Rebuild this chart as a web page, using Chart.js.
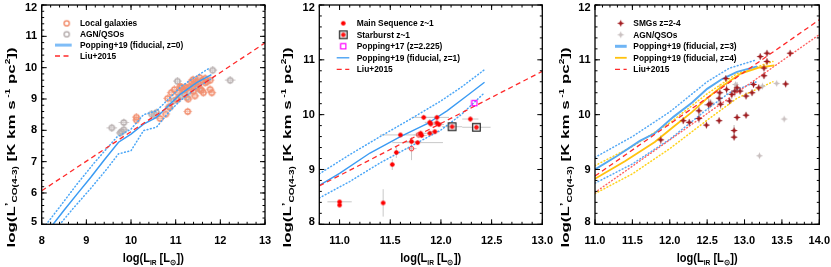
<!DOCTYPE html>
<html><head><meta charset="utf-8">
<script src="https://cdn.jsdelivr.net/npm/chart.js@4.4.1/dist/chart.umd.min.js"></script>
<style>
html,body{margin:0;padding:0;background:#fff;}
#wrap{position:relative;width:831px;height:267px;overflow:hidden;background:#fff;}
canvas{position:absolute;left:0;top:0;}
</style></head><body>
<div id="wrap">
<canvas id="c1" width="831" height="267"></canvas>
<canvas id="c2" width="831" height="267"></canvas>
<canvas id="c3" width="831" height="267"></canvas>
</div>
<script>
// ================= DATA =================
// ---- Panel 1 (local) ----
const p1XTicks = [8, 9, 10, 11, 12, 13];
const p1XTickLabels = ['8', '9', '10', '11', '12', '13'];
const p1YTicks = [5, 6, 7, 8, 9, 10, 11, 12];
const p1YTickLabels = ['5', '6', '7', '8', '9', '10', '11', '12'];
const p1LocalX = [10.12, 10.12, 10.65, 10.78, 10.85, 10.82, 10.9, 10.97, 11.02, 11.05, 11.1, 11.13, 11.17, 11.22, 11.25, 11.3, 11.27, 11.28, 11.35, 11.39, 11.4, 11.43, 11.39, 11.45, 11.48, 11.5, 11.54, 11.55, 11.58, 11.6, 11.62, 11.66, 11.66, 11.7, 11.77, 11.81, 11.77, 11.2];
const p1LocalY = [8.42, 8.33, 8.38, 8.52, 8.75, 9.02, 9.2, 9.3, 8.98, 9.2, 9.4, 9.38, 9.3, 9.38, 9.36, 9.38, 8.6, 9.0, 9.55, 9.62, 9.25, 9.1, 9.47, 9.55, 9.4, 9.5, 9.68, 9.32, 9.28, 9.6, 9.2, 9.52, 9.66, 9.55, 9.31, 9.2, 9.6, 9.28];
const p1LocalErrX = [0.1, 0.1, 0.1, 0.1, 0.1, 0.1, 0.1, 0.1, 0.1, 0.1, 0.1, 0.1, 0.1, 0.1, 0.1, 0.1, 0.1, 0.1, 0.1, 0.1, 0.1, 0.1, 0.1, 0.1, 0.1, 0.1, 0.1, 0.1, 0.1, 0.1, 0.1, 0.1, 0.1, 0.1, 0.1, 0.1, 0.1, 0.1];
const p1LocalErrY = [0.13, 0.13, 0.13, 0.13, 0.15, 0.13, 0.13, 0.15, 0.13, 0.13, 0.13, 0.13, 0.13, 0.13, 0.13, 0.13, 0.13, 0.13, 0.13, 0.13, 0.13, 0.13, 0.13, 0.13, 0.13, 0.13, 0.13, 0.13, 0.13, 0.13, 0.13, 0.13, 0.13, 0.13, 0.13, 0.13, 0.13, 0.13];
const p1AgnX = [9.57, 9.84, 9.79, 9.84, 9.76, 10.46, 10.57, 10.52, 10.87, 10.95, 11.04, 11.05, 11.1, 11.13, 11.2, 11.25, 11.32, 11.4, 11.5, 11.54, 11.83, 12.22];
const p1AgnY = [8.08, 8.25, 7.96, 8.02, 7.92, 8.52, 8.57, 8.5, 8.73, 8.94, 9.57, 9.0, 9.1, 9.36, 9.15, 9.05, 9.25, 9.4, 9.57, 9.3, 9.92, 9.6];
const p1AgnErrX = [0.12, 0.12, 0.1, 0.1, 0.1, 0.1, 0.1, 0.1, 0.1, 0.1, 0.1, 0.1, 0.1, 0.1, 0.1, 0.1, 0.1, 0.1, 0.1, 0.1, 0.1, 0.12];
const p1AgnErrY = [0.13, 0.13, 0.13, 0.13, 0.13, 0.13, 0.13, 0.13, 0.13, 0.13, 0.13, 0.13, 0.13, 0.13, 0.13, 0.13, 0.13, 0.13, 0.13, 0.13, 0.13, 0.13];
const p1PopX = [8.2, 8.5, 8.8, 9.1, 9.4, 9.72, 10.0, 10.28, 10.57, 10.87, 11.1, 11.47, 11.8];
const p1PopY = [4.9, 5.45, 5.98, 6.5, 7.05, 7.62, 7.88, 8.2, 8.41, 8.83, 9.15, 9.52, 9.78];
const p1PopHiX = [8.05, 8.4, 8.8, 9.2, 9.68, 10.0, 10.28, 10.57, 10.87, 11.13, 11.47, 11.77];
const p1PopHiY = [4.9, 5.55, 6.3, 7.0, 7.78, 8.04, 8.5, 8.62, 9.04, 9.41, 9.73, 10.0];
const p1PopLoX = [8.35, 8.7, 9.1, 9.45, 9.72, 10.0, 10.28, 10.57, 10.87, 11.1, 11.47, 11.84];
const p1PopLoY = [4.9, 5.5, 6.15, 6.75, 7.25, 7.35, 7.99, 8.1, 8.62, 8.94, 9.36, 9.68];
const p1LiuX = [8, 13];
const p1LiuY = [6.07, 10.79];

// ---- Panel 2 (z~1) ----
const p2XTicks = [11.0, 11.5, 12.0, 12.5, 13.0];
const p2XTickLabels = ['11.0', '11.5', '12.0', '12.5', '13.0'];
const p2YTicks = [8, 9, 10, 11, 12];
const p2YTickLabels = ['8', '9', '10', '11', '12'];
const p2MsX = [11.0, 11.0, 11.43, 11.52, 11.56, 11.6, 11.71, 11.77, 11.8, 11.81, 11.83, 11.89, 11.9, 11.89, 11.94, 11.96, 11.96, 11.98, 12.29];
const p2MsY = [8.41, 8.35, 8.39, 9.09, 9.31, 9.63, 9.51, 9.49, 9.66, 9.62, 9.95, 9.86, 9.83, 9.66, 9.69, 9.95, 9.85, 9.82, 9.92];
const p2MsErrX = [0.12, 0.0, 0.02, 0.02, 0.02, 0.2, 0.05, 0.25, 0.05, 0.05, 0.12, 0.05, 0.05, 0.05, 0.05, 0.12, 0.05, 0.05, 0.08];
const p2MsErrY = [0.02, 0.02, 0.25, 0.1, 0.1, 0.03, 0.05, 0.04, 0.05, 0.05, 0.05, 0.06, 0.05, 0.05, 0.05, 0.05, 0.06, 0.05, 0.05];
const p2MsOpenX = [11.71, 11.78];
const p2MsOpenY = [9.38, 9.63];
const p2MsOpenErrX = [0.05, 0.05];
const p2MsOpenErrY = [0.21, 0.05];
const p2SbX = [12.11, 12.35];
const p2SbY = [9.78, 9.77];
const p2SbErrX = [0.1, 0.14];
const p2SbErrY = [0.04, 0.04];
const p2P17X = [12.33];
const p2P17Y = [10.21];
const p2PopX = [10.8, 11.0, 11.3, 11.6, 11.86, 12.06, 12.26, 12.43];
const p2PopY = [8.71, 8.93, 9.3, 9.6, 9.83, 10.07, 10.35, 10.59];
const p2PopHiX = [10.8, 11.1, 11.4, 11.7, 12.0, 12.2, 12.43];
const p2PopHiY = [8.92, 9.27, 9.6, 9.92, 10.25, 10.5, 10.82];
const p2PopLoX = [10.8, 11.1, 11.4, 11.7, 12.0, 12.2, 12.43];
const p2PopLoY = [8.48, 8.78, 9.12, 9.42, 9.72, 10.0, 10.4];
const p2LiuX = [10.8, 13.0];
const p2LiuY = [8.7, 10.79];

// ---- Panel 3 (z=2-4) ----
const p3XTicks = [11.0, 11.5, 12.0, 12.5, 13.0, 13.5, 14.0];
const p3XTickLabels = ['11.0', '11.5', '12.0', '12.5', '13.0', '13.5', '14.0'];
const p3YTicks = [8, 9, 10, 11, 12];
const p3YTickLabels = ['8', '9', '10', '11', '12'];
const p3SmgX = [11.88, 12.18, 12.26, 12.39, 12.39, 12.49, 12.52, 12.54, 12.66, 12.67, 12.68, 12.66, 12.76, 12.75, 12.8, 12.83, 12.87, 12.9, 12.9, 12.86, 12.86, 12.94, 13.02, 13.02, 13.1, 13.12, 13.19, 13.21, 13.26, 13.26, 13.3, 13.3, 13.55, 13.61];
const p3SmgY = [9.54, 9.89, 9.86, 9.93, 10.07, 9.81, 10.18, 10.2, 9.89, 10.4, 10.19, 10.3, 10.46, 10.66, 10.25, 10.37, 10.43, 10.49, 9.95, 9.71, 9.59, 10.43, 9.99, 10.34, 10.4, 10.55, 10.49, 11.06, 10.85, 10.71, 11.12, 10.97, 10.56, 11.12];
const p3SmgErrX = [0.04, 0.04, 0.04, 0.04, 0.04, 0.04, 0.06, 0.04, 0.04, 0.04, 0.04, 0.04, 0.04, 0.04, 0.04, 0.04, 0.04, 0.04, 0.04, 0.04, 0.04, 0.04, 0.04, 0.04, 0.04, 0.04, 0.04, 0.04, 0.04, 0.04, 0.04, 0.04, 0.04, 0.04];
const p3SmgErrY = [0.08, 0.06, 0.06, 0.08, 0.08, 0.06, 0.12, 0.08, 0.06, 0.15, 0.08, 0.12, 0.1, 0.06, 0.06, 0.08, 0.1, 0.1, 0.06, 0.1, 0.06, 0.06, 0.06, 0.06, 0.06, 0.06, 0.06, 0.06, 0.06, 0.06, 0.06, 0.06, 0.06, 0.06];
const p3AgnX = [12.55, 12.88, 13.24, 13.43, 13.53, 13.2];
const p3AgnY = [10.22, 10.55, 10.52, 10.57, 9.92, 9.25];
const p3PopZ3X = [11.0, 11.3, 11.6, 11.8, 12.05, 12.3, 12.5, 12.7, 12.9, 13.17];
const p3PopZ3Y = [9.0, 9.25, 9.52, 9.66, 9.96, 10.22, 10.47, 10.65, 10.78, 10.88];
const p3PopZ3HiX = [11.0, 11.5, 12.0, 12.5, 12.8, 13.16];
const p3PopZ3HiY = [9.22, 9.6, 10.05, 10.6, 10.85, 11.0];
const p3PopZ3LoX = [11.0, 11.5, 12.0, 12.5, 12.8, 13.16];
const p3PopZ3LoY = [8.75, 9.1, 9.55, 10.1, 10.4, 10.6];
const p3PopZ4X = [11.0, 11.4, 11.8, 12.05, 12.3, 12.5, 12.7, 12.95, 13.2, 13.4];
const p3PopZ4Y = [8.83, 9.15, 9.5, 9.78, 10.05, 10.3, 10.52, 10.75, 10.86, 10.9];
const p3PopZ4HiX = [11.0, 11.5, 12.0, 12.5, 12.9, 13.38];
const p3PopZ4HiY = [9.07, 9.42, 9.85, 10.38, 10.75, 10.97];
const p3PopZ4LoX = [11.0, 11.5, 12.0, 12.5, 12.9, 13.38];
const p3PopZ4LoY = [8.56, 8.92, 9.38, 9.9, 10.3, 10.6];
const p3LiuX = [11.0, 14.0];
const p3LiuY = [8.88, 11.73];
const p3LiuLoX = [11.0, 14.0];
const p3LiuLoY = [8.58, 11.46];

// ================= HELPERS =================
const FONT = '"Liberation Sans", Arial, Helvetica, sans-serif';
Chart.defaults.font.family = FONT;
const pts = (xs, ys) => xs.map((x, i) => ({x: x, y: ys[i]}));

function mkImg(w, h, fn) {
  const c = document.createElement('canvas');
  c.width = w; c.height = h;
  fn(c.getContext('2d'), w / 2, h / 2);
  return c;
}
function ring(col, r, lw) {
  return mkImg(9, 9, (g, cx, cy) => { g.strokeStyle = col; g.lineWidth = lw; g.beginPath(); g.arc(cx, cy, r, 0, Math.PI * 2); g.stroke(); });
}
function star4(col) {
  return mkImg(9, 9, (g, cx, cy) => {
    const r = 3.6, w = 1.1;
    g.fillStyle = col; g.beginPath();
    g.moveTo(cx, cy - r); g.lineTo(cx + w, cy - w); g.lineTo(cx + r, cy); g.lineTo(cx + w, cy + w);
    g.lineTo(cx, cy + r); g.lineTo(cx - w, cy + w); g.lineTo(cx - r, cy); g.lineTo(cx - w, cy - w);
    g.closePath(); g.fill();
  });
}
const imgLocal = ring('#f28f6f', 2.6, 1.5);
const imgAgn1 = ring('#b8b0b0', 2.6, 1.5);
const imgMs = mkImg(7, 7, (g, cx, cy) => { g.fillStyle = '#ff0000'; g.beginPath(); g.arc(cx, cy, 2.3, 0, Math.PI * 2); g.fill(); });
const imgMsOpen = ring('#ff2020', 2.2, 1);
const imgSb = mkImg(11, 11, (g, cx, cy) => {
  g.fillStyle = 'rgba(230,230,230,0.6)'; g.fillRect(cx - 3.8, cy - 3.8, 7.6, 7.6);
  g.strokeStyle = '#222'; g.lineWidth = 1.2; g.strokeRect(cx - 3.8, cy - 3.8, 7.6, 7.6);
  g.fillStyle = '#ff1010'; g.beginPath(); g.arc(cx, cy, 2.2, 0, Math.PI * 2); g.fill();
});
const imgP17 = mkImg(8, 8, (g, cx, cy) => { g.strokeStyle = '#ff00ff'; g.lineWidth = 1.2; g.strokeRect(cx - 2.6, cy - 2.6, 5.2, 5.2); });
const imgSmg = star4('#a1171b');
const imgAgn3 = star4('#c8bfbf');

function scatterDs(xs, ys, img, order, ex, ey, ecol, elw) {
  return {data: pts(xs, ys), pointStyle: img, pointRadius: 4, order: order, showLine: false,
          errX: ex, errY: ey, errColor: ecol, errWidth: elw || 1};
}
function lineDs(xs, ys, col, w, dash, order) {
  return {data: pts(xs, ys), showLine: true, pointRadius: 0, borderColor: col, borderWidth: w,
          borderDash: dash || [], fill: false, tension: 0, order: order, borderCapStyle: dash && dash[0] < 2 ? 'round' : 'butt'};
}

function richWidth(ctx, segs, size) {
  let w = 0;
  for (const s of segs) { ctx.font = 'bold ' + (size * (s.s || 1)) + 'px ' + FONT; w += ctx.measureText(s.t).width; }
  return w;
}
function drawRich(ctx, segs, size, x0, base) {
  let x = x0;
  for (const s of segs) {
    ctx.font = 'bold ' + (size * (s.s || 1)) + 'px ' + FONT;
    ctx.fillText(s.t, x, base + (s.dy || 0) * size);
    x += ctx.measureText(s.t).width;
  }
}
const yTitleSegs = [{t: 'log(L'}, {t: '\u2019', s: 0.8, dy: -0.3}, {t: 'CO(4-3)', s: 0.6, dy: 0.28}, {t: ' [K km s'}, {t: ' -1', s: 0.6, dy: -0.45}, {t: ' pc'}, {t: '2', s: 0.6, dy: -0.45}, {t: '])'}];
const xTitleSegs = [{t: 'log(L'}, {t: 'IR', s: 0.6, dy: 0.3}, {t: ' [L'}, {t: '\u2299', s: 0.65, dy: 0.3}, {t: '])'}];

function steps(min, max, step) {
  const out = [];
  for (let k = Math.ceil(min / step - 1e-6); k <= Math.floor(max / step + 1e-6); k++) out.push(k * step);
  return out;
}

const panelPlugin = {
  id: 'panel',
  beforeDatasetsDraw(chart) {
    const ctx = chart.ctx, a = chart.chartArea, xs = chart.scales.x, ys = chart.scales.y;
    ctx.save();
    ctx.beginPath(); ctx.rect(a.left, a.top, a.right - a.left, a.bottom - a.top); ctx.clip();
    chart.data.datasets.forEach(ds => {
      if (!ds.errX && !ds.errY) return;
      ctx.strokeStyle = ds.errColor; ctx.lineWidth = ds.errWidth;
      ds.data.forEach((p, i) => {
        const px = xs.getPixelForValue(p.x), py = ys.getPixelForValue(p.y);
        ctx.beginPath();
        if (ds.errX && ds.errX[i]) {
          ctx.moveTo(xs.getPixelForValue(p.x - ds.errX[i]), py); ctx.lineTo(xs.getPixelForValue(p.x + ds.errX[i]), py);
        }
        if (ds.errY && ds.errY[i]) {
          ctx.moveTo(px, ys.getPixelForValue(p.y - ds.errY[i])); ctx.lineTo(px, ys.getPixelForValue(p.y + ds.errY[i]));
        }
        ctx.stroke();
      });
    });
    ctx.restore();
  },
  afterDraw(chart, args, o) {
    const ctx = chart.ctx, a = chart.chartArea, xs = chart.scales.x, ys = chart.scales.y;
    ctx.save();
    ctx.strokeStyle = '#000'; ctx.lineWidth = 1.3;
    ctx.strokeRect(a.left, a.top, a.right - a.left, a.bottom - a.top);
    ctx.lineWidth = 1;
    ctx.beginPath();
    const xt = (v, L) => { const p = xs.getPixelForValue(v); ctx.moveTo(p, a.bottom); ctx.lineTo(p, a.bottom - L); ctx.moveTo(p, a.top); ctx.lineTo(p, a.top + L); };
    const yt = (v, L) => { const p = ys.getPixelForValue(v); ctx.moveTo(a.left, p); ctx.lineTo(a.left + L, p); ctx.moveTo(a.right, p); ctx.lineTo(a.right - L, p); };
    steps(xs.min, xs.max, o.xMinor).forEach(v => xt(v, 2.5));
    steps(ys.min, ys.max, o.yMinor).forEach(v => yt(v, 2.5));
    o.xTicks.forEach(v => xt(v, 5));
    o.yTicks.forEach(v => yt(v, 5));
    ctx.stroke();
    // tick labels
    ctx.fillStyle = '#000';
    ctx.font = 'bold 11px ' + FONT;
    ctx.textAlign = 'center'; ctx.textBaseline = 'middle';
    o.xTicks.forEach((v, i) => ctx.fillText(o.xLabels[i], xs.getPixelForValue(v), 240.7));
    ctx.textAlign = 'right';
    o.yTicks.forEach((v, i) => {
      let p = ys.getPixelForValue(v);
      p = Math.max(a.top + 3.4, Math.min(a.bottom - 2.4, p));
      ctx.fillText(o.yLabels[i], a.left - 4.5, p);
    });
    // x title
    ctx.textAlign = 'left'; ctx.textBaseline = 'alphabetic';
    let W = richWidth(ctx, xTitleSegs, 12);
    ctx.save();
    ctx.translate((a.left + a.right) / 2, 261.5);
    ctx.scale(61 / W, 1);
    drawRich(ctx, xTitleSegs, 12, -W / 2, 0);
    ctx.restore();
    // y title
    W = richWidth(ctx, yTitleSegs, 10.5);
    ctx.save();
    ctx.translate(o.yTitleX, 147.5);
    ctx.rotate(-Math.PI / 2);
    ctx.scale(200 / W, 1);
    drawRich(ctx, yTitleSegs, 10.5, -W / 2, 0);
    ctx.restore();
    // legend
    const L = o.legend;
    ctx.font = 'bold 8.4px ' + FONT;
    ctx.textBaseline = 'middle'; ctx.textAlign = 'left';
    L.items.forEach((it, i) => {
      const y = L.y0 + i * L.dy;
      if (it.img) {
        ctx.drawImage(it.img, L.mx - it.img.width / 2, y - it.img.height / 2);
      } else {
        ctx.save();
        ctx.strokeStyle = it.col; ctx.lineWidth = it.w; ctx.setLineDash(it.dash || []);
        ctx.beginPath(); ctx.moveTo(L.l0, y); ctx.lineTo(L.l1, y); ctx.stroke();
        ctx.restore();
      }
      ctx.font = 'bold 8.4px ' + FONT;
      ctx.fillStyle = '#000';
      ctx.fillText(it.text, L.tx, y + 0.5);
    });
    ctx.restore();
  }
};

function makeChart(id, area, scales, datasets, po) {
  return new Chart(document.getElementById(id), {
    type: 'scatter',
    data: {datasets: datasets},
    options: {
      responsive: false, animation: false, devicePixelRatio: 1,
      layout: {padding: {left: area[0], right: 831 - area[1], top: 3.3, bottom: 267 - 224.3}},
      scales: {
        x: {type: 'linear', min: scales[0], max: scales[1], display: false},
        y: {type: 'linear', min: scales[2], max: scales[3], display: false}
      },
      plugins: {legend: {display: false}, tooltip: {enabled: false}, panel: po}
    },
    plugins: [panelPlugin]
  });
}

const RED = '#ff2a2a';
const DASH = [5, 3.5];
const DOT = [0.8, 2.6];

// ---- Panel 1 ----
makeChart('c1', [41.7, 265], [8, 13, 5, 12], [
  lineDs(p1LiuX, p1LiuY, RED, 1.3, DASH, 0),
  lineDs(p1PopX, p1PopY, '#3b9bf3', 1.5, null, 1),
  lineDs(p1PopHiX, p1PopHiY, '#4aa6f7', 1.5, DOT, 2),
  lineDs(p1PopLoX, p1PopLoY, '#4aa6f7', 1.5, DOT, 3),
  scatterDs(p1LocalX, p1LocalY, imgLocal, 5, p1LocalErrX, p1LocalErrY, '#f7c6b6', 1.2),
  scatterDs(p1AgnX, p1AgnY, imgAgn1, 6, p1AgnErrX, p1AgnErrY, '#d6d0d0', 1.2)
], {
  xTicks: p1XTicks, xLabels: p1XTickLabels, yTicks: p1YTicks, yLabels: p1YTickLabels,
  xMinor: 0.2, yMinor: 0.2, yTitleX: 14.5,
  legend: {y0: 23.3, dy: 10.9, mx: 66.7, l0: 55, l1: 71.7, tx: 80, items: [
    {img: imgLocal, text: 'Local galaxies'},
    {img: imgAgn1, text: 'AGN/QSOs'},
    {col: '#7fbdf7', w: 3, text: 'Popping+19 (fiducial, z=0)'},
    {col: RED, w: 1.3, dash: DASH, text: 'Liu+2015'}
  ]}
});

// ---- Panel 2 ----
makeChart('c2', [319.3, 542.3], [10.8, 13.0, 8, 12], [
  scatterDs(p2P17X, p2P17Y, imgP17, 0),
  scatterDs(p2SbX, p2SbY, imgSb, 1, p2SbErrX, p2SbErrY, '#c8c8c8', 1),
  scatterDs(p2MsX, p2MsY, imgMs, 2, p2MsErrX, p2MsErrY, '#c8c8c8', 1),
  scatterDs(p2MsOpenX, p2MsOpenY, imgMsOpen, 3, p2MsOpenErrX, p2MsOpenErrY, '#c8c8c8', 1),
  lineDs(p2LiuX, p2LiuY, RED, 1.3, DASH, 4),
  lineDs(p2PopX, p2PopY, '#3b9bf3', 1.4, null, 5),
  lineDs(p2PopHiX, p2PopHiY, '#4aa6f7', 1.5, DOT, 6),
  lineDs(p2PopLoX, p2PopLoY, '#4aa6f7', 1.5, DOT, 7)
], {
  xTicks: p2XTicks, xLabels: p2XTickLabels, yTicks: p2YTicks, yLabels: p2YTickLabels,
  xMinor: 0.1, yMinor: 0.2, yTitleX: 291,
  legend: {y0: 23.3, dy: 11.5, mx: 343.3, l0: 336.7, l1: 349.3, tx: 356.7, items: [
    {img: imgMs, text: 'Main Sequence z~1'},
    {img: imgSb, text: 'Starburst z~1'},
    {img: imgP17, text: 'Popping+17 (z=2.225)'},
    {col: '#3b9bf3', w: 1.3, text: 'Popping+19 (fiducial, z=1)'},
    {col: RED, w: 1.3, dash: DASH, text: 'Liu+2015'}
  ]}
});

// ---- Panel 3 ----
makeChart('c3', [595, 819.3], [11.0, 14.0, 8, 12], [
  scatterDs(p3SmgX, p3SmgY, imgSmg, 0, p3SmgErrX, p3SmgErrY, '#b9aeae', 1),
  scatterDs(p3AgnX, p3AgnY, imgAgn3, 1, null, null, '#ccc', 1),
  lineDs(p3LiuX, p3LiuY, RED, 1.3, DASH, 2),
  lineDs(p3PopZ4X, p3PopZ4Y, '#ffc20e', 1.8, null, 3),
  lineDs(p3PopZ3X, p3PopZ3Y, '#55a9f2', 2, null, 4),
  lineDs(p3LiuLoX, p3LiuLoY, '#ff6060', 1.4, DOT, 5),
  lineDs(p3PopZ4HiX, p3PopZ4HiY, '#ffd21a', 1.5, DOT, 6),
  lineDs(p3PopZ4LoX, p3PopZ4LoY, '#ffd21a', 1.5, DOT, 7),
  lineDs(p3PopZ3HiX, p3PopZ3HiY, '#55a9f5', 1.5, DOT, 8),
  lineDs(p3PopZ3LoX, p3PopZ3LoY, '#55a9f5', 1.5, DOT, 9)
], {
  xTicks: p3XTicks, xLabels: p3XTickLabels, yTicks: p3YTicks, yLabels: p3YTickLabels,
  xMinor: 0.1, yMinor: 0.2, yTitleX: 568.8,
  legend: {y0: 23.3, dy: 11.5, mx: 620.7, l0: 615, l1: 626.7, tx: 633.3, items: [
    {img: imgSmg, text: 'SMGs z=2-4'},
    {img: imgAgn3, text: 'AGN/QSOs'},
    {col: '#6fb5f5', w: 3, text: 'Popping+19 (fiducial, z=3)'},
    {col: '#ffc20e', w: 1.8, text: 'Popping+19 (fiducial, z=4)'},
    {col: RED, w: 1.3, dash: DASH, text: 'Liu+2015'}
  ]}
});
</script>
</body></html>
